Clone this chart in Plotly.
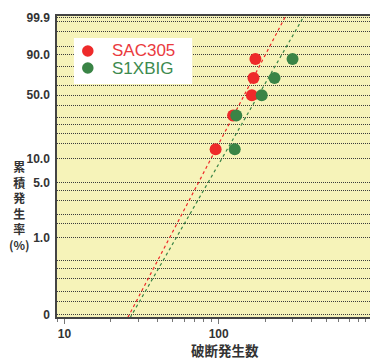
import numpy as np
import plotly.graph_objects as go

# ---- data ----
cum_pct = [12.96, 31.48, 50.0, 68.52, 87.04]          # median ranks (%)
sac305_cycles = [95.5, 124, 164, 168, 173]
s1xbig_cycles = [127, 130, 190, 230, 301]
sac305_fit = {"beta": 3.81, "eta": 161}
s1xbig_fit = {"beta": 3.46, "eta": 201}
series_names = ["SAC305", "S1XBIG"]

ytick_pct = [99.9, 90.0, 50.0, 10.0, 5.0, 1.0, 0.1]
ytick_text = ["99.9", "90.0", "50.0", "10.0", "5.0", "1.0", "0"]
ygrid_minor_pct = [99.8, 99, 95, 80, 70, 60, 40, 30, 25, 20, 15, 4, 3, 2, 1.5, 0.5, 0.4, 0.3, 0.2, 0.15]
xtick_vals = [10, 100, 1000]
xtick_text = ["10", "100", "1000"]
xminor_vals = [9, 20, 30, 40, 50, 60, 70, 80, 90, 200, 300, 400, 500, 600, 700, 800, 900]

RED = "#ee2a2a"
GREEN = "#3a8446"
RED_TXT = "#ea3a3e"
GREEN_TXT = "#3d8a4e"


def weib(p):
    p = np.asarray(p, dtype=float) / 100.0
    return np.log(-np.log(1.0 - p))


def fit_line(fit):
    v = np.array([-7.3, 2.3])
    x = fit["eta"] * np.exp(v / fit["beta"])
    return x, v


fig = go.Figure()

for fit, col in [(sac305_fit, RED), (s1xbig_fit, GREEN)]:
    lx, lv = fit_line(fit)
    fig.add_trace(go.Scatter(x=lx, y=lv, mode="lines", showlegend=False,
                             line=dict(color=col, width=1.2, dash="3px,3px"),
                             hoverinfo="skip"))

fig.add_trace(go.Scatter(x=sac305_cycles, y=weib(cum_pct), mode="markers",
                         name=series_names[0], showlegend=False,
                         marker=dict(color=RED, size=12)))
fig.add_trace(go.Scatter(x=s1xbig_cycles, y=weib(cum_pct), mode="markers",
                         name=series_names[1], showlegend=False,
                         marker=dict(color=GREEN, size=12)))

grid_color = "#3c3c3c"
fig.update_yaxes(
    range=[-6.967, 1.992],
    tickvals=list(weib(ytick_pct)), ticktext=ytick_text,
    ticks="", ticklabelstandoff=3,
    tickfont=dict(family="Liberation Sans", size=12, color="#333", weight="bold"),
    showgrid=True, gridcolor=grid_color, griddash="1px,1px", gridwidth=1,
    minor=dict(tickvals=list(weib(ygrid_minor_pct)), showgrid=True,
               gridcolor=grid_color, griddash="1px,1px", gridwidth=1, ticks=""),
    zeroline=False,
    showline=True, linecolor="#444", linewidth=1.5, mirror=True,
)
fig.update_xaxes(
    type="log", range=[0.952, 3.0],
    tickvals=xtick_vals, ticktext=xtick_text,
    ticks="outside", ticklen=5, tickcolor="#777", tickwidth=1,
    tickfont=dict(family="Liberation Sans", size=12, color="#333", weight="bold"),
    showgrid=False,
    minor=dict(tickvals=xminor_vals, ticks="outside", ticklen=3, tickcolor="#777", showgrid=False),
    zeroline=False,
    showline=True, linecolor="#444", linewidth=1.5, mirror=True,
)

# page has an 8px body margin; figure is sized so it fits the 378x360 window
OFF = 8
W, H = 378 - OFF, 360 - OFF
L, R, T, B = 57 - OFF, 3, 16 - OFF, 43
pw, ph = W - L - R, H - T - B


def px_to_paper(xp, yp):
    """window pixel -> paper coordinates"""
    xf, yf = xp - OFF, yp - OFF
    return (xf - L) / pw, (H - B - yf) / ph


annotations = []
shapes = []
ax, ay = px_to_paper(226, 350)
annotations.append(dict(x=ax, y=ay, xref="paper", yref="paper", text="破断発生数",
                        showarrow=False, xanchor="center", yanchor="middle",
                        font=dict(family="Noto Sans CJK JP", size=13.5, color="#333", weight="bold")))
cx, cy = px_to_paper(19, 205)
annotations.append(dict(x=cx, y=cy, xref="paper", yref="paper",
                        text="累<br>積<br>発<br>生<br>率<br>(%)",
                        showarrow=False, xanchor="center", yanchor="middle",
                        font=dict(family="Noto Sans CJK JP", size=12, color="#333", weight="bold")))

# legend box
x0, y0 = px_to_paper(74, 38)
x1, y1 = px_to_paper(193, 84)
shapes.append(dict(type="rect", xref="paper", yref="paper", x0=x0, y0=y1, x1=x1, y1=y0,
                   fillcolor="white", line=dict(width=0), layer="above"))
for i, (nm, col, tcol) in enumerate([(series_names[0], RED, RED_TXT), (series_names[1], GREEN, GREEN_TXT)]):
    my = 51 + i * 17
    r = 5.8
    a0, b0 = px_to_paper(88 - r, my - r)
    a1, b1 = px_to_paper(88 + r, my + r)
    shapes.append(dict(type="circle", xref="paper", yref="paper", x0=a0, y0=b1, x1=a1, y1=b0,
                       fillcolor=col, line=dict(width=0), layer="above"))
    tx, ty = px_to_paper(110, my)
    annotations.append(dict(x=tx, y=ty, xref="paper", yref="paper", text=nm, showarrow=False,
                            xanchor="left", yanchor="middle",
                            font=dict(family="Liberation Sans", size=17, color=tcol)))

fig.update_layout(
    width=W, height=H,
    margin=dict(l=L, r=R, t=T, b=B, pad=0),
    plot_bgcolor="#f6f3b9", paper_bgcolor="white",
    showlegend=False,
    annotations=annotations,
    shapes=shapes,
)

fig.write_html("out.html")
